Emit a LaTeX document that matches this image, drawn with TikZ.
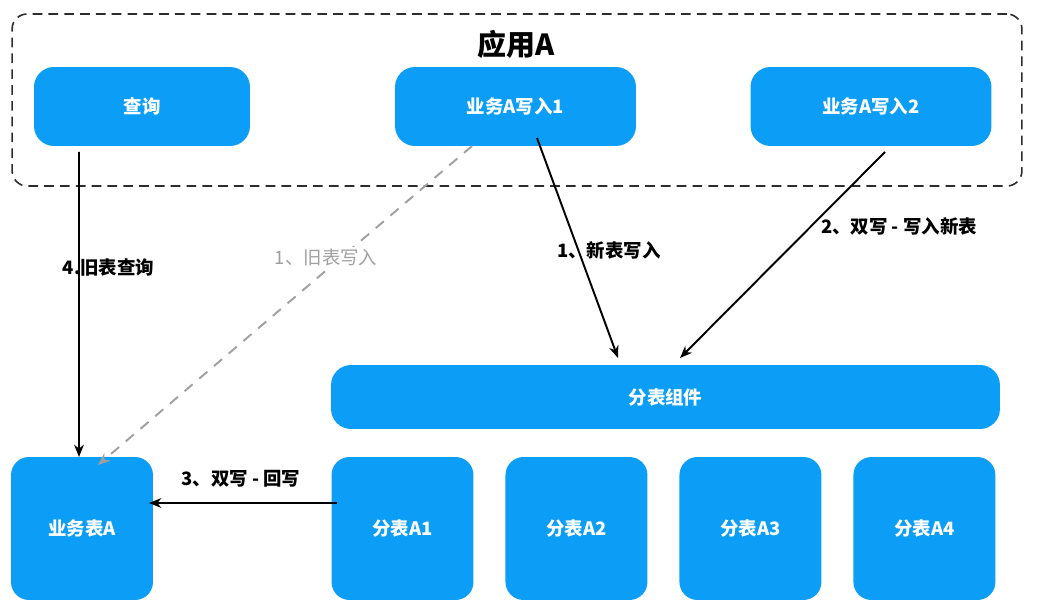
\documentclass[tikz,border=0pt]{standalone}
\usepackage{fontspec}
\setmainfont{Noto Sans CJK SC}
\usepackage{xcolor}
\usetikzlibrary{positioning, arrows, arrows.meta}
\definecolor{boxblue}{RGB}{12,158,246}
\definecolor{framegray}{RGB}{45,45,45}
\definecolor{oldgray}{RGB}{160,160,160}

\begin{document}
\begin{tikzpicture}[x=0.02cm, y=-0.02cm, >={Stealth[length=7pt,width=5.5pt]}, line width=1.1pt,
    box/.style={rectangle, rounded corners=0.4cm, fill=boxblue, text=white, inner sep=0pt, outer sep=0pt,
      font=\fontsize{10.5}{12}\selectfont\bfseries},
    appbox/.style={box, minimum width=4.82cm, minimum height=1.58cm},
    tablebox/.style={box, rounded corners=0.36cm, minimum width=2.84cm, minimum height=2.86cm},
    lbl/.style={font=\fontsize{10.5}{12}\selectfont\bfseries, text=black}]
  \useasboundingbox (0,0) rectangle (1047,614);

  % application A
  \node[draw=framegray, dash pattern=on 5.5pt off 3.5pt, line width=0.9pt, rounded corners=0.3cm,
    minimum width=20.2cm, minimum height=3.44cm] (app) at (517,100) {};
  \node[font=\fontsize{16.5}{18}\selectfont\bfseries] (title) at (516,44) {应用A};
  \node[appbox, minimum width=4.32cm] (query) at (142,106.5) {查询};
  \node[appbox] (write1) at (515.5,106.5) {业务A写入1};
  \node[appbox] (write2) at (871,106.5) {业务A写入2};

  % tables
  \node[box, minimum width=13.38cm, minimum height=1.28cm] (shard) at (665.5,397) {分表组件};
  \node[tablebox] (tableA) at (82,528.5) {业务表A};
  \node[tablebox] (a1) at (402.5,528.5) {分表A1};
  \node[tablebox] (a2) [right=0.64cm of a1] {分表A2};
  \node[tablebox] (a3) [right=0.64cm of a2] {分表A3};
  \node[tablebox] (a4) [right=0.64cm of a3] {分表A4};

  \path ([xshift=-1.26cm,yshift=-0.12cm]query.south) edge[->] node[lbl, pos=0.38, anchor=west, xshift=-0.46cm] {4.旧表查询} ([xshift=-0.06cm]tableA.north)
        ([xshift=-0.87cm]write1.south) edge[->, draw=oldgray, dash pattern=on 6pt off 5pt] node[pos=0.35, fill=white, inner sep=1pt, xshift=-0.3cm, text=oldgray, font=\fontsize{10.5}{12}\selectfont] {1、旧表写入} ([xshift=0.32cm,yshift=-0.16cm]tableA.north)
        ([xshift=0.43cm,yshift=0.16cm]write1.south) edge[->] node[lbl, pos=0.51, anchor=west, xshift=-0.56cm] {1、新表写入} ([xshift=-0.95cm,yshift=0.14cm]shard.north)
        ([xshift=0.28cm,yshift=-0.12cm]write2.south) edge[->] node[lbl, pos=0.36, anchor=west, xshift=0.06cm] {2、双写 - 写入新表} ([xshift=0.29cm,yshift=0.14cm]shard.north)
        ([xshift=0.1cm,yshift=0.51cm]a1.west) edge[->] node[lbl, pos=0.51, above=0.18cm] {3、双写 - 回写} ([xshift=-0.08cm,yshift=0.51cm]tableA.east);
\end{tikzpicture}
\end{document}
